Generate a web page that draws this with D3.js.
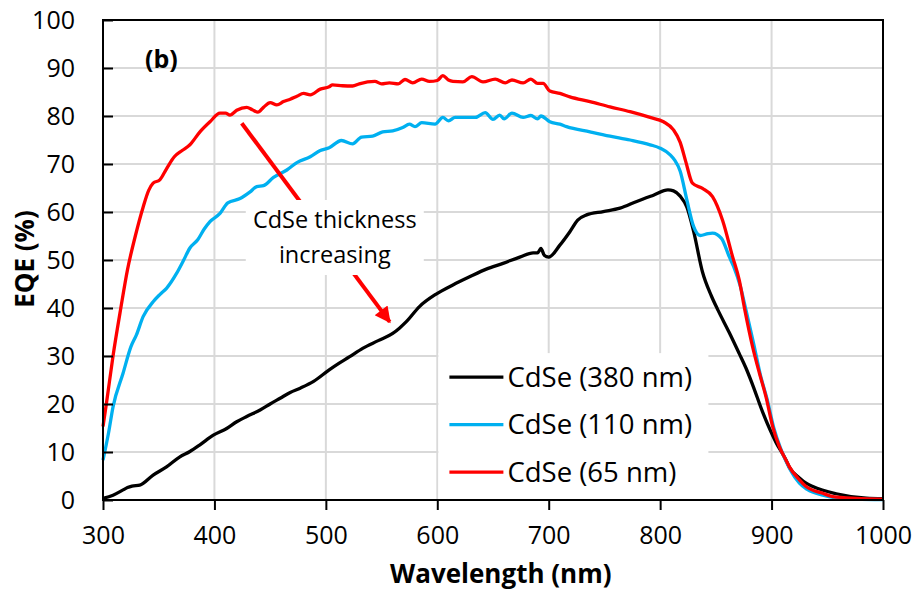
<!DOCTYPE html>
<html>
<head>
<meta charset="utf-8">
<script src="https://cdn.jsdelivr.net/npm/d3@7/dist/d3.min.js"></script>
<style>
    body { margin: 0; background: #fff; }
    svg text { font-family: "Open Sans", sans-serif; fill: #000; }
</style>
</head>
<body>
<svg id="chart" width="916" height="594"></svg>
<script>
// Wavelength (nm), EQE (%).
var cdse380 = [
    [300, 0.35], [309, 1.0], [318, 2.1], [322, 2.6], [326, 2.9], [333, 3.1], [345, 5.2],
    [357, 6.9], [369, 9.0], [378, 10.1], [387, 11.5], [399, 13.5], [411, 14.9], [420, 16.3],
    [429, 17.4], [441, 18.75], [450, 20.0], [459, 21.2], [468, 22.4], [477, 23.3], [489, 24.7],
    [503, 27.1], [512, 28.5], [521, 29.8], [533, 31.6], [547, 33.2], [560, 34.7], [566, 35.8],
    [572, 37.1], [584, 40.3], [599, 42.9], [614, 44.8], [629, 46.5], [644, 48.1], [659, 49.3],
    [674, 50.6], [686, 51.5], [690, 51.5], [693, 52.4], [696, 51.0], [700, 50.6], [710, 53.1],
    [719, 55.9], [726, 58.3], [734, 59.4], [749, 60.1], [764, 60.8], [779, 62.2], [794, 63.5],
    [807, 64.6], [812, 64.4], [818, 63.3], [824, 61.0], [830, 56.0], [838, 47.5], [846, 42.5],
    [852, 39.5], [862, 34.9], [871, 30.5], [877, 27.5], [883, 24.0], [892, 18.3], [904, 12.0],
    [913, 8.3], [916, 6.8], [925, 4.6], [931, 3.5], [937, 2.8], [958, 1.3], [985, 0.4], [1000, 0.3]
];

var cdse110 = [
    [300, 8.3], [305, 14.0], [309, 19.4], [318, 26.4], [325, 31.9], [330, 34.4], [336, 38.2],
    [345, 41.3], [351, 42.8], [357, 44.1], [366, 47.2], [372, 49.8], [378, 52.5], [385, 54.2],
    [391, 56.5], [396, 58.0], [405, 59.7], [412, 61.9], [423, 62.8], [432, 64.2], [438, 65.3],
    [444, 65.5], [453, 67.2], [465, 68.75], [474, 70.3], [486, 71.5], [495, 72.8], [503, 73.4],
    [514, 74.9], [524, 74.2], [532, 75.6], [542, 75.8], [551, 76.7], [560, 76.9], [569, 77.6],
    [575, 78.3], [580, 77.8], [586, 78.6], [598, 78.3], [605, 79.7], [610, 79.0], [616, 79.7],
    [634, 79.7], [643, 80.7], [650, 79.3], [656, 80.2], [660, 79.4], [667, 80.6], [677, 79.7],
    [684, 80.1], [690, 79.4], [693, 80.0], [701, 78.8], [710, 78.3], [716, 77.8], [737, 76.7],
    [755, 75.8], [773, 75.0], [791, 74.0], [800, 73.3], [809, 71.9], [813, 70.8], [818, 68.5],
    [824, 62.5], [830, 57.0], [836, 55.1], [843, 55.5], [847, 55.6], [855, 54.5], [862, 50.7],
    [866, 48.6], [872, 44.5], [877, 39.6], [884, 32.5], [890, 26.0], [896, 21.0], [902, 15.0],
    [908, 10.8], [914, 7.6], [917, 6.2], [925, 3.5], [932, 2.2], [946, 1.0], [956, 0.5],
    [976, 0.2], [1000, 0.1]
];

var cdse65 = [
    [300, 15.3], [303, 20.0], [309, 30.0], [316, 40.0], [322, 48.0], [329, 55.0], [336, 61.0],
    [341, 64.5], [345, 66.0], [351, 66.7], [357, 69.0], [364, 71.5], [371, 72.8], [378, 74.0],
    [387, 76.7], [396, 78.8], [405, 80.6], [410, 80.6], [414, 80.2], [420, 81.2], [429, 81.8],
    [434, 81.3], [439, 80.8], [444, 81.8], [450, 82.8], [456, 82.3], [462, 83.0], [468, 83.5],
    [474, 84.1], [480, 84.7], [486, 84.4], [495, 85.6], [503, 86.1], [506, 86.5], [515, 86.3],
    [524, 86.25], [530, 86.7], [544, 87.2], [550, 86.7], [557, 86.9], [565, 86.7], [571, 87.6],
    [578, 86.9], [586, 87.7], [593, 87.2], [600, 87.4], [605, 88.4], [610, 87.5], [614, 87.2],
    [623, 87.1], [631, 88.2], [641, 87.1], [652, 87.7], [661, 86.9], [667, 87.5], [677, 86.9],
    [684, 87.7], [690, 86.8], [695, 86.8], [701, 85.2], [710, 84.7], [719, 84.0], [737, 83.0],
    [755, 81.9], [773, 80.9], [791, 79.7], [803, 78.8], [812, 77.1], [818, 74.5], [823, 70.5],
    [829, 66.0], [838, 64.9], [847, 63.2], [856, 58.3], [865, 50.7], [871, 45.8], [876, 39.6],
    [883, 31.9], [889, 26.5], [895, 21.5], [901, 15.3], [907, 11.1], [913, 8.3], [916, 6.9],
    [925, 4.2], [931, 2.8], [946, 1.4], [955, 0.7], [976, 0.35], [1000, 0.2]
];

var seriesNames = ['CdSe (380 nm)', 'CdSe (110 nm)', 'CdSe (65 nm)'];
var seriesColors = ['#000000', '#00b0f0', '#ff0000'];
var xTicks = [300, 400, 500, 600, 700, 800, 900, 1000];
var yTicks = [0, 10, 20, 30, 40, 50, 60, 70, 80, 90, 100];

// Annotation arrow, in data units: [start, end].
var arrowPoints = [[424.5, 78.5], [557.3, 37.1]];
var annotationLines = ['CdSe thickness', 'increasing'];

var margin = {top: 20, right: 33, bottom: 94, left: 103};
var svg = d3.select('#chart');
var width = +svg.attr('width') - margin.left - margin.right;
var height = +svg.attr('height') - margin.top - margin.bottom;

var x = d3.scaleLinear().domain([300, 1000]).range([0, width]);
var y = d3.scaleLinear().domain([0, 100]).range([height, 0]);

var g = svg.append('g')
    .attr('transform', 'translate(' + margin.left + ',' + margin.top + ')');

// Gridlines.
g.append('g')
    .selectAll('line.hgrid')
    .data(yTicks)
    .enter()
    .append('line')
    .attr('class', 'hgrid')
    .attr('x1', 0)
    .attr('x2', width)
    .attr('y1', function (d) { return y(d); })
    .attr('y2', function (d) { return y(d); })
    .style('stroke', '#d9d9d9')
    .style('stroke-width', 2);

g.append('g')
    .selectAll('line.vgrid')
    .data(xTicks)
    .enter()
    .append('line')
    .attr('class', 'vgrid')
    .attr('x1', function (d) { return x(d); })
    .attr('x2', function (d) { return x(d); })
    .attr('y1', 0)
    .attr('y2', height)
    .style('stroke', '#d9d9d9')
    .style('stroke-width', 2);

// Series lines.
var line = d3.line()
    .x(function (d) { return x(d[0]); })
    .y(function (d) { return y(d[1]); })
    .curve(d3.curveMonotoneX);

var allSeries = [cdse380, cdse110, cdse65];

g.selectAll('path.series')
    .data(allSeries)
    .enter()
    .append('path')
    .attr('class', 'series')
    .attr('d', line)
    .style('fill', 'none')
    .style('stroke', function (d, i) { return seriesColors[i]; })
    .style('stroke-width', 3.3)
    .style('stroke-linejoin', 'round');

// Annotation arrow (drawn first so the label box covers its middle).
svg.append('defs')
    .append('marker')
    .attr('id', 'arrowhead')
    .attr('viewBox', '0 0 10 10')
    .attr('refX', 9)
    .attr('refY', 5)
    .attr('markerWidth', 4.5)
    .attr('markerHeight', 4)
    .attr('orient', 'auto')
    .append('path')
    .attr('d', 'M0,0 L10,5 L0,10 Z')
    .style('fill', '#ff0000');

g.append('line')
    .attr('x1', x(arrowPoints[0][0]))
    .attr('y1', y(arrowPoints[0][1]))
    .attr('x2', x(arrowPoints[1][0]))
    .attr('y2', y(arrowPoints[1][1]))
    .attr('marker-end', 'url(#arrowhead)')
    .style('stroke', '#ff0000')
    .style('stroke-width', 4);

// Annotation label box.
var noteX = x(508);
g.append('rect')
    .attr('x', noteX - 89)
    .attr('y', y(62.5))
    .attr('width', 178)
    .attr('height', 75)
    .style('fill', '#fff');

g.selectAll('text.note')
    .data(annotationLines)
    .enter()
    .append('text')
    .attr('class', 'note')
    .attr('x', noteX)
    .attr('y', function (d, i) { return y(56.7) + i * 35; })
    .attr('text-anchor', 'middle')
    .style('font-size', '23.5px')
    .text(function (d) { return d; });

// Legend.
var legend = g.append('g')
    .attr('transform', 'translate(' + x(601) + ',' + y(30.6) + ')');

legend.append('rect')
    .attr('width', 270)
    .attr('height', y(0) - y(30.6) - 1)
    .style('fill', '#fff');

var item = legend.selectAll('g.item')
    .data(seriesNames)
    .enter()
    .append('g')
    .attr('class', 'item')
    .attr('transform', function (d, i) { return 'translate(0,' + (24 + i * 47.5) + ')'; });

item.append('line')
    .attr('x1', 11)
    .attr('x2', 65)
    .style('stroke', function (d, i) { return seriesColors[i]; })
    .style('stroke-width', 3.3);

item.append('text')
    .attr('x', 69)
    .attr('y', 9.5)
    .style('font-size', '27.5px')
    .text(function (d) { return d; });

// Frame.
g.append('rect')
    .attr('width', width)
    .attr('height', height)
    .style('fill', 'none')
    .style('stroke', '#000')
    .style('stroke-width', 2);

// Axes.
var xAxis = g.append('g')
    .attr('transform', 'translate(0,' + height + ')')
    .call(d3.axisBottom(x).tickValues(xTicks).tickFormat(d3.format('d'))
        .tickSize(10).tickPadding(16));

var yAxis = g.append('g')
    .call(d3.axisLeft(y).tickValues(yTicks).tickFormat(d3.format('d'))
        .tickSize(-10).tickPadding(28));

[xAxis, yAxis].forEach(function (axis) {
    axis.select('.domain').remove();
    axis.selectAll('.tick line').style('stroke', '#000').style('stroke-width', 2);
    axis.selectAll('.tick text')
        .style('font-family', '"Open Sans", sans-serif')
        .style('font-size', '25px')
        .attr('fill', '#000');
});

// Axis titles.
svg.append('text')
    .attr('x', margin.left + x(657))
    .attr('y', 583)
    .attr('text-anchor', 'middle')
    .style('font-size', '26px')
    .style('font-weight', 'bold')
    .text('Wavelength (nm)');

svg.append('text')
    .attr('transform', 'translate(34,' + (margin.top + y(50.2)) + ') rotate(-90)')
    .attr('text-anchor', 'middle')
    .style('font-size', '26px')
    .style('font-weight', 'bold')
    .text('EQE (%)');

// Panel tag.
svg.append('text')
    .attr('x', 145)
    .attr('y', 68)
    .style('font-size', '25px')
    .style('font-weight', 'bold')
    .text('(b)');
</script>
</body>
</html>
